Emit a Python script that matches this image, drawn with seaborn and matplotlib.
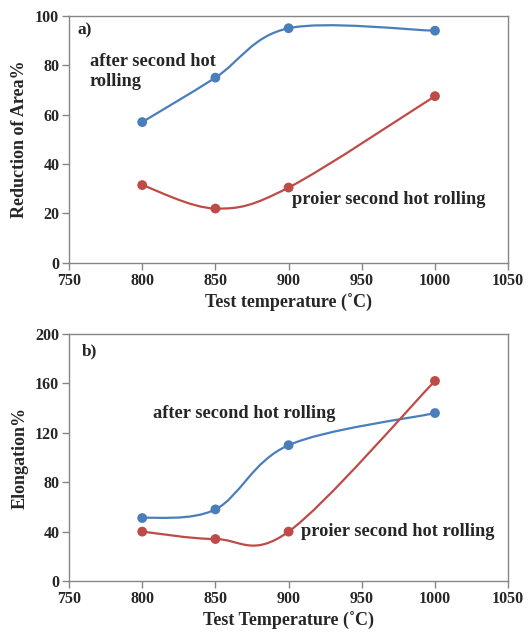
import numpy as np
import pandas as pd
import seaborn as sns
import matplotlib.pyplot as plt
from matplotlib.path import Path
from matplotlib.patches import PathPatch

# test temperatures (C)
temps = [800, 850, 900, 1000]

# reduction of area %
ra_after = [57, 75, 95, 94]
ra_prior = [31.5, 22, 30.5, 67.5]

# elongation %
el_after = [51, 58, 110, 136]
el_prior = [40, 34, 40, 162]

blue = "#4a7ebb"
red = "#be4b48"
grey = "#868686"

sns.set_style("white")
plt.rcParams['font.family'] = ['Liberation Serif', 'DejaVu Serif']
plt.rcParams['font.weight'] = 'bold'
plt.rcParams['axes.labelweight'] = 'bold'


def smooth_line(ax, xs, ys, color):
    # Excel-style smoothed line: cubic Bezier segments through the points
    pts = np.column_stack([xs, ys]).astype(float)
    n = len(pts)
    verts = [pts[0]]
    codes = [Path.MOVETO]
    for i in range(n - 1):
        p0 = pts[i - 1] if i > 0 else pts[i]
        p3 = pts[i + 2] if i + 2 < n else pts[i + 1]
        c1 = pts[i] + (pts[i + 1] - p0) / 6
        c2 = pts[i + 1] - (p3 - pts[i]) / 6
        verts += [c1, c2, pts[i + 1]]
        codes += [Path.CURVE4] * 3
    ax.add_patch(PathPatch(Path(verts, codes), facecolor='none',
                           edgecolor=color, lw=1.6, zorder=2))


def draw_panel(ax, after, prior, ymax, ystep, ylabel, xlabel):
    df = pd.DataFrame({'T': temps * 2, 'v': after + prior,
                       'series': ['after'] * 4 + ['prior'] * 4})
    smooth_line(ax, temps, after, blue)
    smooth_line(ax, temps, prior, red)
    sns.scatterplot(data=df, x='T', y='v', hue='series',
                    palette={'after': blue, 'prior': red}, s=50,
                    edgecolor='none', legend=False, ax=ax, zorder=3)
    ax.set_xlim(750, 1050)
    ax.set_ylim(0, ymax)
    ax.set_xticks(np.arange(750, 1051, 50))
    ax.set_yticks(np.arange(0, ymax + 1, ystep))
    ax.set_xlabel(xlabel, fontsize=13, labelpad=4)
    ax.set_ylabel(ylabel, fontsize=13, labelpad=5)
    for s in ax.spines.values():
        s.set_color(grey)
        s.set_linewidth(1)
    ax.tick_params(direction='out', length=5, width=1, color=grey,
                   labelsize=11.5, pad=2, bottom=True, left=True)


fig = plt.figure(figsize=(5.31, 6.35), dpi=100)
ax1 = fig.add_axes([0.130, 0.586, 0.827, 0.389])
ax2 = fig.add_axes([0.130, 0.085, 0.827, 0.389])

draw_panel(ax1, ra_after, ra_prior, 100, 20, 'Reduction of Area%',
           'Test temperature (\u02daC)')
ax1.text(755.5, 94.3, 'a)', fontsize=12.5, va='center')
ax1.text(764, 77.5, 'after second hot\nrolling', fontsize=13.2,
         va='center', linespacing=1.2)
ax1.text(902.5, 25.5, 'proier second hot rolling', fontsize=13.2,
         va='center')

draw_panel(ax2, el_after, el_prior, 200, 40, 'Elongation%',
           'Test Temperature (\u02daC)')
ax2.text(759, 186, 'b)', fontsize=12.5, va='center')
ax2.text(807.5, 136, 'after second hot rolling', fontsize=13.2,
         va='center')
ax2.text(908.5, 39.7, 'proier second hot rolling', fontsize=13.2,
         va='center')

fig.savefig('out.png', dpi=100)
